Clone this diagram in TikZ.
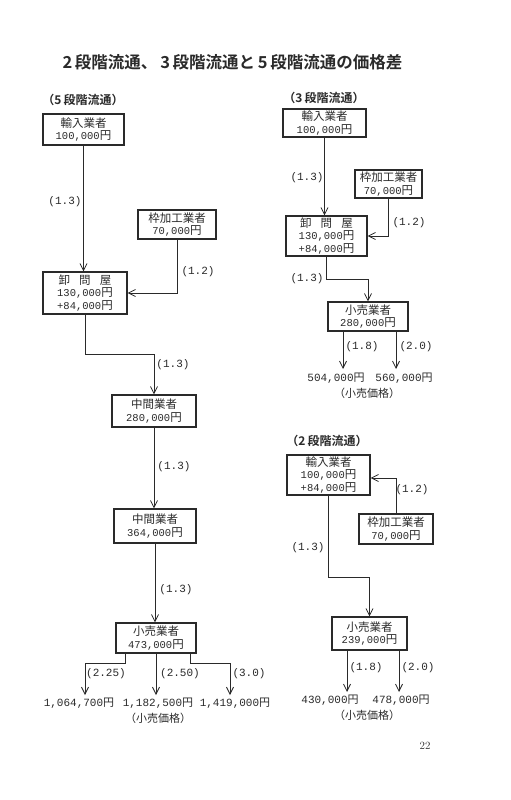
\documentclass[tikz,border=0pt]{standalone}
\usepackage{fontspec}
\usetikzlibrary{arrows.meta}
\newfontfamily\jp{Noto Sans CJK JP}[BoldFont={Noto Sans CJK JP Bold}]
\newfontfamily\mono{Liberation Mono}
\newcommand\nm[1]{{\mono\fontsize{10.5}{12}\selectfont #1}}
\newcommand\vn[1]{{\mono\fontsize{11}{12}\selectfont #1}}
\definecolor{ink}{HTML}{2A2A2A}
\tikzset{
  box/.style={draw=ink, line width=1.3pt, inner sep=0pt, align=center, text=ink,
    font=\jp\fontsize{11.5}{12.5}\selectfont},
  conn/.style={draw=ink, line width=0.8pt, -{Straight Barb[length=7pt,width=7pt]}},
  lab/.style={text=ink, font=\mono\fontsize{11}{12}\selectfont, inner sep=0pt},
  val/.style={text=ink, font=\jp\fontsize{11}{12}\selectfont, inner sep=0pt, align=center},
  head/.style={text=ink, font=\jp\bfseries\fontsize{12}{13}\selectfont, inner sep=0pt},
}
\begin{document}
\begin{tikzpicture}[x=1pt,y=-1pt]
\useasboundingbox (0,0) rectangle (511,800);
\fill[white] (0,0) rectangle (511,800);
\node[text=ink, font=\jp\bfseries\fontsize{16.5}{18}\selectfont, inner sep=0pt] (title) at (232.5,62) {2\,段階流通、\,3\,段階流通と\,5\,段階流通の価格差};

% ---------- 5 stage ----------
\node[head] (h5) at (83,100) {（5\,段階流通）};
\node[box, minimum width=81pt, minimum height=31pt] (L1) at (83.5,129.5) {輸入業者\\\nm{100,000}円};
\node[box, minimum width=78pt, minimum height=29pt] (L2) at (177,224.5) {枠加工業者\\\nm{70,000}円};
\node[box, minimum width=84pt, minimum height=42pt] (L3) at (85,293) {卸\hspace{0.8em}問\hspace{0.8em}屋\\\nm{130,000}円\\\nm{+84,000}円};
\node[box, minimum width=84pt, minimum height=32pt] (L4) at (154,411) {中間業者\\\nm{280,000}円};
\node[box, minimum width=82pt, minimum height=34pt] (L5) at (155,526) {中間業者\\\nm{364,000}円};
\node[box, minimum width=80pt, minimum height=30pt] (L6) at (156,638) {小売業者\\\nm{473,000}円};

\draw[conn] (L1.south) -- (L1.south |- L3.north);
\draw[conn] (L2.south) |- (L3.east);
\draw[conn] (L3.south) -- ++(0,40) -| (L4.north);
\draw[conn] (L4.south) -- (L4.south |- L5.north);
\draw[conn] (L5.south) -- (L5.south |- L6.north);

\node[val] (v1) at (79,703) {\vn{1,064,700}円};
\node[val] (v2) at (158,703) {\vn{1,182,500}円};
\node[val] (v3) at (235,703) {\vn{1,419,000}円};
\node[val] (p5) at (158,718) {（小売価格）};
\coordinate (t1) at (85,695);
\coordinate (t2) at (156,695);
\coordinate (t3) at (230,695);
\draw[conn] ([xshift=-31pt]L6.south) -- ++(0,10) -| (t1);
\draw[conn] (L6.south) -- (t2);
\draw[conn] ([xshift=34pt]L6.south) -- ++(0,10) -| (t3);

\node[lab] at (65,202) {(1.3)};
\node[lab] at (198,272) {(1.2)};
\node[lab] at (173,365) {(1.3)};
\node[lab] at (174,467) {(1.3)};
\node[lab] at (176,590) {(1.3)};
\node[lab] at (106,674) {(2.25)};
\node[lab] at (180,674) {(2.50)};
\node[lab] at (249,674) {(3.0)};

% ---------- 3 stage ----------
\node[head] (h3) at (324,98) {（3\,段階流通）};
\node[box, minimum width=83pt, minimum height=28pt] (R1) at (324.5,123) {輸入業者\\\nm{100,000}円};
\node[box, minimum width=67pt, minimum height=28pt] (R2) at (388.5,184) {枠加工業者\\\nm{70,000}円};
\node[box, minimum width=81pt, minimum height=40pt] (R3) at (326.5,236) {卸\hspace{0.8em}問\hspace{0.8em}屋\\\nm{130,000}円\\\nm{+84,000}円};
\node[box, minimum width=80pt, minimum height=29pt] (R4) at (368,316.5) {小売業者\\\nm{280,000}円};

\draw[conn] (R1.south) -- (R1.south |- R3.north);
\draw[conn] (R2.south) |- (R3.east);
\draw[conn] (R3.south) -- ++(0,23) -| (R4.north);

\node[val] (w1) at (336,378) {\vn{504,000}円};
\node[val] (w2) at (404,378) {\vn{560,000}円};
\node[val] (p3) at (367,393) {（小売価格）};
\coordinate (s1) at (343,369);
\coordinate (s2) at (396,369);
\draw[conn] (R4.south -| s1) -- (s1);
\draw[conn] (R4.south -| s2) -- (s2);

\node[lab] at (307,178) {(1.3)};
\node[lab] at (409,223) {(1.2)};
\node[lab] at (307,279) {(1.3)};
\node[lab] at (362,347) {(1.8)};
\node[lab] at (416,347) {(2.0)};

% ---------- 2 stage ----------
\node[head] (h2) at (327,441) {（2\,段階流通）};
\node[box, minimum width=83pt, minimum height=40pt] (T1) at (328.5,475) {輸入業者\\\nm{100,000}円\\\nm{+84,000}円};
\node[box, minimum width=74pt, minimum height=30pt] (T2) at (396,529) {枠加工業者\\\nm{70,000}円};
\node[box, minimum width=75pt, minimum height=33pt] (T3) at (369.5,633.5) {小売業者\\\nm{239,000}円};

\draw[conn] (T2.north) |- ([yshift=-3pt]T1.east);
\draw[conn] (T1.south) -- ++(0,82) -| (T3.north);

\node[val] (u1) at (330,700) {\vn{430,000}円};
\node[val] (u2) at (401,700) {\vn{478,000}円};
\node[val] (p2) at (367,715) {（小売価格）};
\coordinate (q1) at (347,692);
\coordinate (q2) at (399,692);
\draw[conn] (T3.south -| q1) -- (q1);
\draw[conn] (T3.south -| q2) -- (q2);

\node[lab] at (412,490) {(1.2)};
\node[lab] at (308,548) {(1.3)};
\node[lab] at (366,668) {(1.8)};
\node[lab] at (418,668) {(2.0)};

\node[text=ink, font=\fontsize{11}{12}\selectfont, inner sep=0pt] (pg) at (425,746) {22};
\end{tikzpicture}
\end{document}
